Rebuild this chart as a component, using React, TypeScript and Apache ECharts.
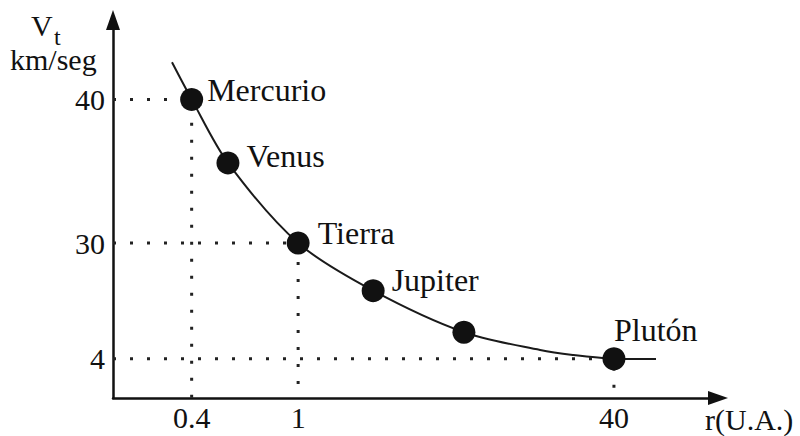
import React, { useEffect, useRef } from "react";
import * as echarts from "echarts";

// Schematic chart units (the original figure is not to scale)
const planetNames = ["Mercurio", "Venus", "Tierra", "Jupiter", "", "Plutón"];
const planetX = [13.0, 19.0, 30.6, 43.0, 58.0, 82.8];
const planetY = [39.5, 31.1, 20.5, 14.2, 8.7, 5.2];

// points
const curveX = [9.75, 13.0, 19.0, 30.6, 43.0, 58.0, 70.6, 76.0, 82.8, 89.75];
const curveY = [44.4, 39.5, 31.1, 20.5, 14.2, 8.7, 6.35, 5.7, 5.2, 5.15];

const xTickValues = [13.0, 30.6, 82.8];
const xTickLabels = ["0.4", "1", "40"];
const yTickValues = [39.5, 20.5, 5.2];
const yTickLabels = ["40", "30", "4"];

// planets with dotted guide lines to both axes
const guideIdx = [0, 2, 5];

const FONT = "'Liberation Serif', 'Times New Roman', serif";
const INK = "#111";

export default function App() {
  const ref = useRef<HTMLDivElement>(null);
  useEffect(() => {
    document.body.style.margin = "0";
    if (!ref.current) return;
    const chart = echarts.init(ref.current, null, { renderer: "svg" });

    const txt = { color: INK, fontFamily: FONT, fontSize: 30 };
    const lbl = { color: INK, fontFamily: FONT, fontSize: 32 };
    const labelCfg: any[] = [
      { ...lbl, position: "right", distance: 4, offset: [0, -9] },
      { ...lbl, position: "right", distance: 7, offset: [0, -7] },
      { ...lbl, position: "right", distance: 8, offset: [0, -10] },
      { ...lbl, position: "right", distance: 7, offset: [0, -11] },
      { show: false },
      { ...lbl, position: "top", align: "left", distance: 1, offset: [0, 0] },
    ];

    const guideSeries = guideIdx.map((i) => ({
      type: "line",
      silent: true,
      symbol: "none",
      z: 1,
      lineStyle: { color: "#222", width: 3, type: [3, 14], cap: "butt" },
      data: [
        [0, planetY[i]],
        [planetX[i], planetY[i]],
        [planetX[i], 0],
      ],
    }));

    chart.setOption({
      animation: false,
      backgroundColor: "#fff",
      textStyle: { fontFamily: FONT },
      grid: { left: 113, right: 82, top: 20, bottom: 38 },
      xAxis: {
        type: "value",
        min: 0,
        max: 100,
        splitLine: { show: false },
        axisTick: { show: false },
        axisLine: {
          onZero: false,
          symbol: ["none", "triangle"],
          symbolSize: [14, 20],
          lineStyle: { color: INK, width: 2.5 },
        },
        axisLabel: {
          customValues: xTickValues,
          formatter: (v: number) => {
            const k = xTickValues.findIndex((t) => Math.abs(t - v) < 1e-6);
            return k >= 0 ? xTickLabels[k] : "";
          },
          ...txt,
          margin: 4,
        },
      },
      yAxis: {
        type: "value",
        min: 0,
        max: 50,
        splitLine: { show: false },
        axisTick: { show: false },
        axisLine: {
          onZero: false,
          symbol: ["none", "triangle"],
          symbolSize: [14, 20],
          lineStyle: { color: INK, width: 2.5 },
        },
        axisLabel: {
          customValues: yTickValues,
          formatter: (v: number) => {
            const k = yTickValues.findIndex((t) => Math.abs(t - v) < 1e-6);
            return k >= 0 ? yTickLabels[k] : "";
          },
          ...txt,
          margin: 8,
        },
      },
      graphic: [
        {
          type: "text",
          left: 31,
          top: 10,
          style: { text: "V", font: `30px ${FONT}`, fill: INK },
        },
        {
          type: "text",
          left: 54,
          top: 25,
          style: { text: "t", font: `24px ${FONT}`, fill: INK },
        },
        {
          type: "text",
          left: 10,
          top: 44,
          style: { text: "km/seg", font: `30px ${FONT}`, fill: INK },
        },
        {
          type: "text",
          left: 705,
          top: 404,
          style: { text: "r(U.A.)", font: `30px ${FONT}`, fill: INK },
        },
      ],
      series: [
        ...guideSeries,
        {
          type: "line",
          silent: true,
          symbol: "none",
          smooth: 0.3,
          z: 2,
          lineStyle: { color: "#1a1a1a", width: 2 },
          data: curveX.map((x, i) => [x, curveY[i]]),
        },
        {
          type: "scatter",
          z: 3,
          symbolSize: 23,
          itemStyle: { color: INK, opacity: 1 },
          label: {
            show: true,
            ...lbl,
            formatter: (p: any) => planetNames[p.dataIndex],
          },
          data: planetX.map((x, i) => ({
            value: [x, planetY[i]],
            label: labelCfg[i],
          })),
        },
      ],
    });
    return () => chart.dispose();
  }, []);
  return <div ref={ref} style={{ width: 800, height: 436 }} />;
}
